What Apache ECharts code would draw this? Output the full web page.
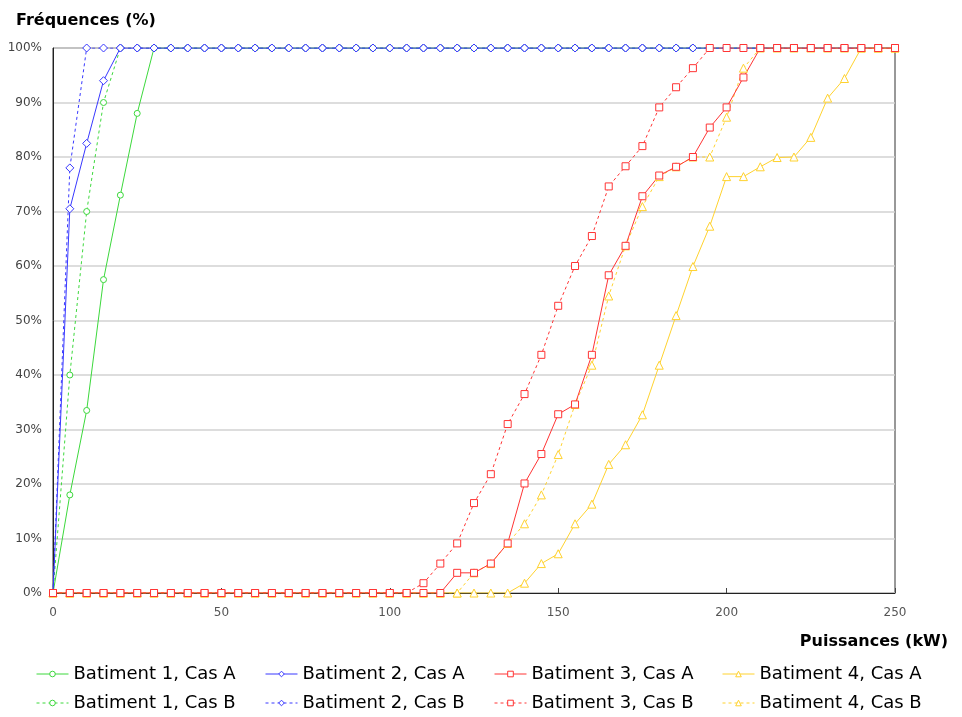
<!DOCTYPE html>
<html>
<head>
<meta charset="utf-8">
<script src="https://cdn.jsdelivr.net/npm/echarts@6/dist/echarts.min.js"></script>
<style>
  html, body { margin: 0; padding: 0; background: #fff; }
  #chart { width: 962px; height: 717px; }
</style>
</head>
<body>
<div id="chart"></div>
<script>
// puissance en kW, un point tous les 5 kW
const puissances = [
  0, 5, 10, 15, 20, 25, 30, 35, 40, 45,
  50, 55, 60, 65, 70, 75, 80, 85, 90, 95,
  100, 105, 110, 115, 120, 125, 130, 135, 140, 145,
  150, 155, 160, 165, 170, 175, 180, 185, 190, 195,
  200, 205, 210, 215, 220, 225, 230, 235, 240, 245,
  250
];

const bat1A = [
  0, 18, 33.5, 57.5, 73, 88, 100, 100, 100, 100,
  100, 100, 100, 100, 100, 100, 100, 100, 100, 100,
  100, 100, 100, 100, 100, 100, 100, 100, 100, 100,
  100, 100, 100, 100, 100, 100, 100, 100, 100, 100,
  100, 100, 100, 100, 100, 100, 100, 100, 100, 100,
  100
];
const bat1B = [
  0, 40, 70, 90, 100, 100, 100, 100, 100, 100,
  100, 100, 100, 100, 100, 100, 100, 100, 100, 100,
  100, 100, 100, 100, 100, 100, 100, 100, 100, 100,
  100, 100, 100, 100, 100, 100, 100, 100, 100, 100,
  100, 100, 100, 100, 100, 100, 100, 100, 100, 100,
  100
];
const bat2A = [
  0, 70.5, 82.5, 94, 100, 100, 100, 100, 100, 100,
  100, 100, 100, 100, 100, 100, 100, 100, 100, 100,
  100, 100, 100, 100, 100, 100, 100, 100, 100, 100,
  100, 100, 100, 100, 100, 100, 100, 100, 100, 100,
  100, 100, 100, 100, 100, 100, 100, 100, 100, 100,
  100
];
const bat2B = [
  0, 78, 100, 100, 100, 100, 100, 100, 100, 100,
  100, 100, 100, 100, 100, 100, 100, 100, 100, 100,
  100, 100, 100, 100, 100, 100, 100, 100, 100, 100,
  100, 100, 100, 100, 100, 100, 100, 100, 100, 100,
  100, 100, 100, 100, 100, 100, 100, 100, 100, 100,
  100
];
const bat3A = [
  0, 0, 0, 0, 0, 0, 0, 0, 0, 0,
  0, 0, 0, 0, 0, 0, 0, 0, 0, 0,
  0, 0, 0, 0, 3.7, 3.7, 5.4, 9.1, 20.1, 25.5,
  32.8, 34.6, 43.7, 58.3, 63.7, 72.8, 76.6, 78.2, 80, 85.4,
  89.1, 94.6, 100, 100, 100, 100, 100, 100, 100, 100,
  100
];
const bat3B = [
  0, 0, 0, 0, 0, 0, 0, 0, 0, 0,
  0, 0, 0, 0, 0, 0, 0, 0, 0, 0,
  0, 0, 1.8, 5.4, 9.1, 16.5, 21.8, 31, 36.5, 43.7,
  52.7, 60, 65.5, 74.6, 78.3, 82, 89.1, 92.8, 96.3, 100,
  100, 100, 100, 100, 100, 100, 100, 100, 100, 100,
  100
];
const bat4A = [
  0, 0, 0, 0, 0, 0, 0, 0, 0, 0,
  0, 0, 0, 0, 0, 0, 0, 0, 0, 0,
  0, 0, 0, 0, 0, 0, 0, 0, 1.8, 5.4,
  7.2, 12.7, 16.3, 23.6, 27.2, 32.7, 41.8, 50.9, 59.9, 67.3,
  76.4, 76.4, 78.2, 79.9, 80, 83.6, 90.8, 94.4, 100, 100,
  100
];
const bat4B = [
  0, 0, 0, 0, 0, 0, 0, 0, 0, 0,
  0, 0, 0, 0, 0, 0, 0, 0, 0, 0,
  0, 0, 0, 0, 0, 3.7, 5.4, 9.1, 12.7, 18,
  25.4, 34.6, 41.8, 54.5, 63.7, 70.9, 76.4, 78.2, 80, 80,
  87.3, 96.3, 100, 100, 100, 100, 100, 100, 100, 100,
  100
];

const yTicks = [0, 10, 20, 30, 40, 50, 60, 70, 80, 90, 100];

const FONT = 'DejaVu Sans';
const vert = '#3cd83c';
const bleu = '#3838ff';
const rouge = '#ff3434';
const jaune = '#ffd22e';

function serie(nom, vals, couleur, symbole, taille, pointille) {
  return {
    name: nom,
    type: 'line',
    data: puissances.map((p, i) => [p, vals[i]]),
    symbol: symbole,
    symbolSize: taille,
    showAllSymbol: true,
    lineStyle: { color: couleur, width: 1, type: pointille ? [3, 3] : 'solid' },
    itemStyle: { color: '#fff', borderColor: couleur, borderWidth: 1 },
    emphasis: { disabled: true },
    animation: false
  };
}

const chart = echarts.init(document.getElementById('chart'));

// une légende par entrée pour garder les colonnes alignées
const legendeItem = (left, top, nom) => ({
  left: left,
  top: top,
  itemWidth: 32,
  itemHeight: 7,
  padding: 0,
  data: [nom],
  selectedMode: false,
  itemStyle: { borderWidth: 1 },
  lineStyle: { width: 1 },
  textStyle: { fontFamily: FONT, fontSize: 18, color: '#000' }
});

const colonnes = [36, 265, 494, 722];
const lignes = [665, 694];

chart.setOption({
  backgroundColor: '#fff',
  textStyle: { fontFamily: FONT },
  title: [
    { text: 'Fréquences (%)', left: 11, top: 8,
      textStyle: { fontFamily: FONT, fontSize: 16, fontWeight: 'bold', color: '#000' } },
    { text: 'Puissances (kW)', right: 9, top: 629,
      textStyle: { fontFamily: FONT, fontSize: 16, fontWeight: 'bold', color: '#000' } }
  ],
  legend: [
    legendeItem(colonnes[0], lignes[0], 'Batiment 1, Cas A'),
    legendeItem(colonnes[1], lignes[0], 'Batiment 2, Cas A'),
    legendeItem(colonnes[2], lignes[0], 'Batiment 3, Cas A'),
    legendeItem(colonnes[3], lignes[0], 'Batiment 4, Cas A'),
    legendeItem(colonnes[0], lignes[1], 'Batiment 1, Cas B'),
    legendeItem(colonnes[1], lignes[1], 'Batiment 2, Cas B'),
    legendeItem(colonnes[2], lignes[1], 'Batiment 3, Cas B'),
    legendeItem(colonnes[3], lignes[1], 'Batiment 4, Cas B')
  ],
  grid: {
    left: 53, right: 67, top: 48, bottom: 124,
    show: true, borderColor: '#333', borderWidth: 1, containLabel: false
  },
  xAxis: {
    type: 'value',
    min: 0, max: 250, interval: 50,
    axisLine: { lineStyle: { color: '#222' } },
    axisTick: { show: true, inside: true, length: 5, lineStyle: { color: '#444' } },
    splitLine: { show: false },
    axisLabel: { fontFamily: FONT, fontSize: 12, color: '#555', margin: 14 }
  },
  yAxis: {
    type: 'value',
    min: yTicks[0], max: yTicks[yTicks.length - 1], interval: 10,
    axisLine: { show: true, lineStyle: { color: '#222' } },
    axisTick: { show: false },
    splitLine: { lineStyle: { color: '#d2d2d2', width: 1.5 } },
    axisLabel: { fontFamily: FONT, fontSize: 12, color: '#444', margin: 11, formatter: '{value}%' }
  },
  series: [
    serie('Batiment 1, Cas A', bat1A, vert, 'circle', 6, false),
    serie('Batiment 1, Cas B', bat1B, vert, 'circle', 6, true),
    serie('Batiment 2, Cas A', bat2A, bleu, 'diamond', 8, false),
    serie('Batiment 2, Cas B', bat2B, bleu, 'diamond', 8, true),
    serie('Batiment 4, Cas A', bat4A, jaune, 'triangle', 8, false),
    serie('Batiment 4, Cas B', bat4B, jaune, 'triangle', 8, true),
    serie('Batiment 3, Cas A', bat3A, rouge, 'rect', 7, false),
    serie('Batiment 3, Cas B', bat3B, rouge, 'rect', 7, true)
  ]
});
</script>
</body>
</html>
